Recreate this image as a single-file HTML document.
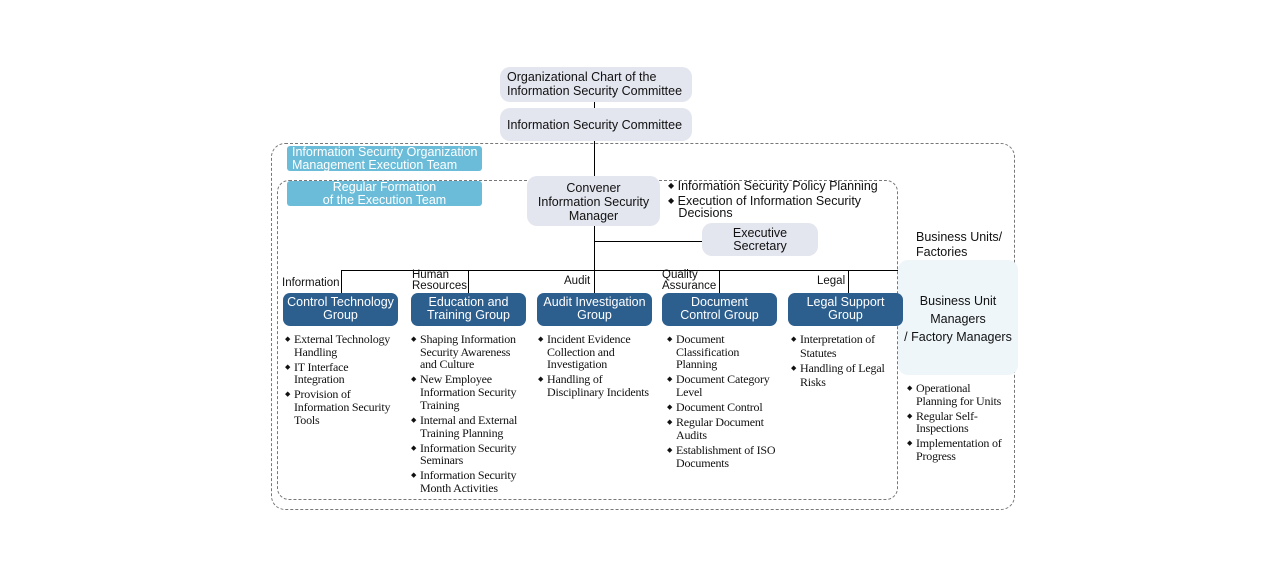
<!DOCTYPE html>
<html><head><meta charset="utf-8"><style>
body{margin:0;width:1284px;height:588px;background:#fff;position:relative;overflow:hidden;font-family:"Liberation Sans",sans-serif;color:#111}
div{position:absolute;box-sizing:border-box}
.g{background:#e3e5ef;border-radius:10px;font-size:12.5px;line-height:14px}
.lb{background:#6bbcd8;border-radius:3px;color:#fff;font-size:12.5px;line-height:12.5px;text-align:center}
.db{background:#2c5e8e;border-radius:7px;color:#fff;font-size:12.5px;line-height:13px;text-align:center;height:33px;top:293px;width:115px;padding-top:3px}
.ln{background:#000}
.lab{font-size:11.5px;line-height:11px}
ul{position:absolute;margin:0;padding:0;list-style:none;font-family:"Liberation Serif",serif;font-size:12px;line-height:12.7px;letter-spacing:-0.2px}
li{position:relative;padding-left:9px;margin-bottom:2.3px}
li:before{content:"\25C6";position:absolute;left:0;top:0;font-size:7px}
.sb{font-size:8px;vertical-align:2px}
</style></head><body>
<div style="left:271px;top:143px;width:744px;height:367px;border:1px dashed #777;border-radius:14px"></div>
<div style="left:277px;top:180px;width:621px;height:320px;border:1px dashed #777;border-radius:12px"></div>
<div style="left:898px;top:260px;width:120px;height:115px;background:#eef6fa;border-radius:10px"></div>

<div class="ln" style="left:594px;top:101px;width:1px;height:192px"></div>
<div class="ln" style="left:594px;top:241px;width:108px;height:1px"></div>
<div class="ln" style="left:341px;top:270px;width:557px;height:1px"></div>
<div class="ln" style="left:341px;top:270px;width:1px;height:23px"></div>
<div class="ln" style="left:468px;top:270px;width:1px;height:23px"></div>
<div class="ln" style="left:719px;top:270px;width:1px;height:23px"></div>
<div class="ln" style="left:848px;top:270px;width:1px;height:23px"></div>

<div class="g" style="left:500px;top:67px;width:192px;height:35px;padding:3px 0 0 7px">Organizational Chart of the<br>Information Security Committee</div>
<div class="g" style="left:500px;top:108px;width:192px;height:33px;padding:10px 0 0 7px">Information Security Committee</div>
<div class="g" style="left:527px;top:176px;width:133px;height:50px;text-align:center;padding-top:5px;line-height:14px">Convener<br>Information Security<br>Manager</div>
<div class="g" style="left:702px;top:223px;width:116px;height:33px;text-align:center;padding-top:4px;line-height:12.5px">Executive<br>Secretary</div>

<div class="lb" style="left:287px;top:146px;width:195px;height:25px;text-align:left;padding:0 0 0 5px">Information Security Organization<br>Management Execution Team</div>
<div class="lb" style="left:287px;top:181px;width:195px;height:25px;padding-top:0">Regular Formation<br>of the Execution Team</div>

<div style="left:668px;top:179px;font-size:12.5px;line-height:13px"><span class="sb">◆</span> Information Security Policy Planning</div>
<div style="left:668px;top:195px;font-size:12.5px;line-height:12px"><span class="sb">◆</span> Execution of Information Security<br>&nbsp;&nbsp;&nbsp;Decisions</div>

<div class="lab" style="left:282px;top:278px">Information</div>
<div class="lab" style="left:412px;top:270px;line-height:11px">Human<br>Resources</div>
<div class="lab" style="left:564px;top:276px">Audit</div>
<div class="lab" style="left:662px;top:270px;line-height:11px">Quality<br>Assurance</div>
<div class="lab" style="left:817px;top:276px">Legal</div>

<div class="db" style="left:283px">Control Technology<br>Group</div>
<div class="db" style="left:411px">Education and<br>Training Group</div>
<div class="db" style="left:537px">Audit Investigation<br>Group</div>
<div class="db" style="left:662px">Document<br>Control Group</div>
<div class="db" style="left:788px">Legal Support<br>Group</div>

<div style="left:916px;top:230px;font-size:12.5px;line-height:15px">Business Units/<br>Factories</div>
<div style="left:898px;top:292px;width:120px;text-align:center;font-size:12.5px;line-height:18px">Business Unit<br>Managers<br>/ Factory Managers</div>

<ul style="left:285px;top:333px;width:110px"><li>External Technology Handling</li><li>IT Interface<br>Integration</li><li>Provision of Information Security Tools</li></ul>
<ul style="left:411px;top:333px;width:112px"><li>Shaping Information Security Awareness and Culture</li><li>New Employee Information Security Training</li><li>Internal and External Training Planning</li><li>Information Security Seminars</li><li>Information Security Month Activities</li></ul>
<ul style="left:538px;top:333px;width:115px"><li>Incident Evidence Collection and Investigation</li><li>Handling of<br>Disciplinary Incidents</li></ul>
<ul style="left:667px;top:333px;width:120px"><li>Document<br>Classification<br>Planning</li><li>Document Category<br>Level</li><li>Document Control</li><li>Regular Document<br>Audits</li><li>Establishment of ISO<br>Documents</li></ul>
<ul style="left:791px;top:333px;width:100px;line-height:13.5px"><li>Interpretation of Statutes</li><li>Handling of Legal Risks</li></ul>
<ul style="left:907px;top:382px;width:102px"><li>Operational<br>Planning for Units</li><li>Regular Self-Inspections</li><li>Implementation of Progress</li></ul>
</body></html>
